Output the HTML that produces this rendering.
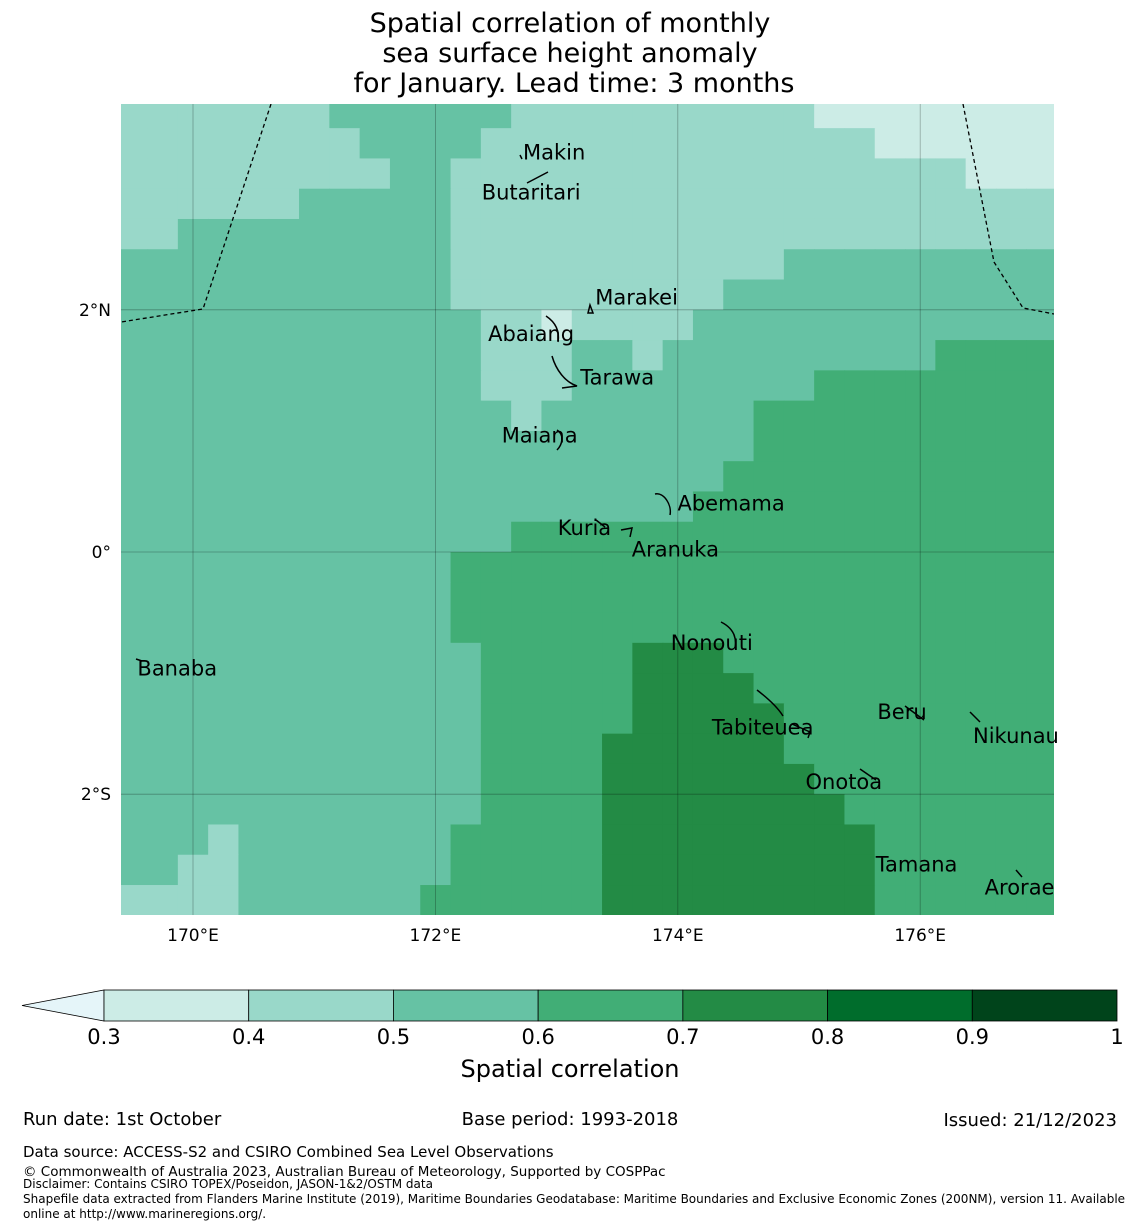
<!DOCTYPE html>
<html><head><meta charset="utf-8">
<style>
body{margin:0;background:#fff;width:1140px;height:1230px;overflow:hidden;font-family:"Liberation Sans","DejaVu Sans",sans-serif;}
svg{position:absolute;left:0;top:0;}
text{font-family:"DejaVu Sans","Liberation Sans",sans-serif;}
</style></head>
<body>
<svg id="chart" width="1140" height="1230">
<g id="title">
<text x="570" y="32" font-size="27" text-anchor="middle">Spatial correlation of monthly</text>
<text x="570" y="62" font-size="27" text-anchor="middle">sea surface height anomaly</text>
<text x="574" y="92" font-size="27" text-anchor="middle">for January. Lead time: 3 months</text>
</g>
<defs><clipPath id="mapclip"><rect x="121" y="104" width="933" height="811"/></clipPath></defs>
<g id="cells" clip-path="url(#mapclip)"></g>
<g id="overlay" clip-path="url(#mapclip)"></g>
<g id="labels"></g>
<g id="axes"></g>
<g id="cbar"></g>
<g id="footer" font-size="18">
<text x="23" y="1125">Run date: 1st October</text>
<text x="570" y="1125" text-anchor="middle">Base period: 1993-2018</text>
<text x="1117" y="1126" text-anchor="end">Issued: 21/12/2023</text>
<text x="23" y="1157" font-size="15">Data source: ACCESS-S2 and CSIRO Combined Sea Level Observations</text>
<text x="23" y="1176" font-size="13.5">© Commonwealth of Australia 2023, Australian Bureau of Meteorology, Supported by COSPPac</text>
<text x="23" y="1188" font-size="12">Disclaimer: Contains CSIRO TOPEX/Poseidon, JASON-1&amp;2/OSTM data</text>
<text x="23" y="1203" font-size="12">Shapefile data extracted from Flanders Marine Institute (2019), Maritime Boundaries Geodatabase: Maritime Boundaries and Exclusive Economic Zones (200NM), version 11. Available</text>
<text x="23" y="1218" font-size="12">online at http://www.marineregions.org/.</text>
</g>
</svg>
<script>
const NS="http://www.w3.org/2000/svg";
const lonStart=169.375;
const latStart=3.75;
const cellDeg=0.25;
// class indices: 1=0.3-0.4 ... 5=0.7-0.8
const rowClasses=[
"2222222333333222222222211111111",
"2222222233332222222222222111111",
"2222222223322222222222222222111",
"2222223333322222222222222222222",
"2233333333322222222222222222222",
"3333333333322222222222333333333",
"3333333333322222222233333333333",
"3333333333332212222333333333333",
"3333333333332223323333333334444",
"3333333333332223333333344444444",
"3333333333333233333334444444444",
"3333333333333333333334444444444",
"3333333333333333333344444444444",
"3333333333333333333444444444444",
"3333333333333444444444444444444",
"3333333333344444444444444444444",
"3333333333344444444444444444444",
"3333333333344444444444444444444",
"3333333333334444455544444444444",
"3333333333334444455554444444444",
"3333333333334444455555444444444",
"3333333333334444555555444444444",
"3333333333334444555555544444444",
"3333333333334444555555554444444",
"3332333333344444555555555444444",
"3322333333344444555555555444444",
"2222333333444444555555555444444"];
const levels=[0.3,0.4,0.5,0.6,0.7,0.8,0.9,1.0];
const levelColors=["#ccece6","#99d8c9","#66c2a4","#41ae76","#238b45","#006d2c","#00441b"];
const lonTicks=[170,172,174,176];
const latTicks=[2,0,-2];
const islands=[["Makin",172.98,3.30],["Butaritari",172.79,2.97],["Marakei",173.66,2.10],["Abaiang",172.79,1.80],["Tarawa",173.50,1.44],["Maiana",172.86,0.96],["Abemama",174.44,0.40],["Kuria",173.23,0.20],["Aranuka",173.98,0.02],["Nonouti",174.28,-0.75],["Banaba",169.87,-0.96],["Tabiteuea",174.70,-1.45],["Beru",175.85,-1.32],["Nikunau",176.79,-1.52],["Onotoa",175.37,-1.90],["Tamana",175.97,-2.58],["Arorae",176.82,-2.77]];

function X(lon){return 193+(lon-170)*121.2;}
function Y(lat){return 552-lat*121.1;}
function el(tag,attrs,parent){const e=document.createElementNS(NS,tag);for(const k in attrs)e.setAttribute(k,attrs[k]);parent.appendChild(e);return e;}

const cells=document.getElementById('cells');
rowClasses.forEach((row,r)=>{
  for(let c=0;c<row.length;c++){
    const k=+row[c];
    const x0=X(lonStart+c*cellDeg),x1=X(lonStart+(c+1)*cellDeg);
    const y0=Y(latStart-r*cellDeg),y1=Y(latStart-(r+1)*cellDeg);
    const rc=el('rect',{x:x0,y:y0,width:x1-x0+0.6,height:y1-y0+0.6,fill:levelColors[k-1]},cells);
    
    
  }
});

const ov=document.getElementById('overlay');
lonTicks.forEach(l=>{const g=el('line',{x1:X(l),x2:X(l),y1:104,y2:915,stroke:'#000','stroke-opacity':0.3,'stroke-width':0.8},ov);

});
latTicks.forEach(l=>{const g=el('line',{y1:Y(l),y2:Y(l),x1:121,x2:1054,stroke:'#000','stroke-opacity':0.3,'stroke-width':0.8},ov);

});
const b1=el('polyline',{points:"271,104 203,309 121,322",fill:'none',stroke:'#000','stroke-width':1.3,'stroke-dasharray':'4,3'},ov);


const b2=el('polyline',{points:"963,104 994,262 1023,308 1054,314",fill:'none',stroke:'#000','stroke-width':1.3,'stroke-dasharray':'4,3'},ov);


const shapes=["M546,316 C555,322 560,330 558,342","M552,356 C556,370 565,382 577,386 L562,388","M590,305 L593,313 L588,313 Z","M557,430 C565,435 562,445 557,450","M655,494 C664,492 672,505 670,515","M596,520 L605,527","M621,530 L632,528 L630,537","M721,622 C733,628 737,637 735,648","M757,690 C770,700 778,708 783,716 M792,724 L810,732 L808,738","M905,706 L924,720","M970,712 L980,722","M860,769 L876,780","M1016,870 L1022,877","M136,659 L142,661","M527,183 L548,172 M520,155 L522,159"];
shapes.forEach(d=>{const p=el('path',{d:d,fill:'none',stroke:'#000','stroke-width':1.5},ov);

});
const lb=document.getElementById('labels');
islands.forEach(([n,lon,lat])=>{const t=el('text',{x:X(lon),y:Y(lat)+7,'font-size':21,'text-anchor':'middle'},lb);t.textContent=n;

});

const ax=document.getElementById('axes');
lonTicks.forEach(l=>{const t=el('text',{x:X(l),y:941,'font-size':17,'text-anchor':'middle'},ax);t.textContent=l+'°E';

});
latTicks.forEach(l=>{const t=el('text',{x:111,y:Y(l)+6,'font-size':17,'text-anchor':'end'},ax);t.textContent=l>0?l+'°N':(l<0?(-l)+'°S':'0°');

});

const cb=document.getElementById('cbar');
function CX(v){return 104+(v-0.3)/0.7*1013;}
const tri=el('polygon',{points:"104,990 104,1021 22,1005.5",fill:'#e5f5f9',stroke:'#000','stroke-width':0.8},cb);


for(let i=0;i<levelColors.length;i++){
  const r=el('rect',{x:CX(levels[i]),y:990,width:CX(levels[i+1])-CX(levels[i]),height:31,fill:levelColors[i],stroke:'#000','stroke-width':0.8},cb);
  
  
}
levels.forEach(v=>{const t=el('text',{x:CX(v),y:1044,'font-size':21,'text-anchor':'middle'},cb);t.textContent=(v===1?'1':v.toFixed(1));

});
const ct=el('text',{x:570,y:1077,'font-size':24,'text-anchor':'middle'},cb);ct.textContent='Spatial correlation';


</script>
</body></html>
